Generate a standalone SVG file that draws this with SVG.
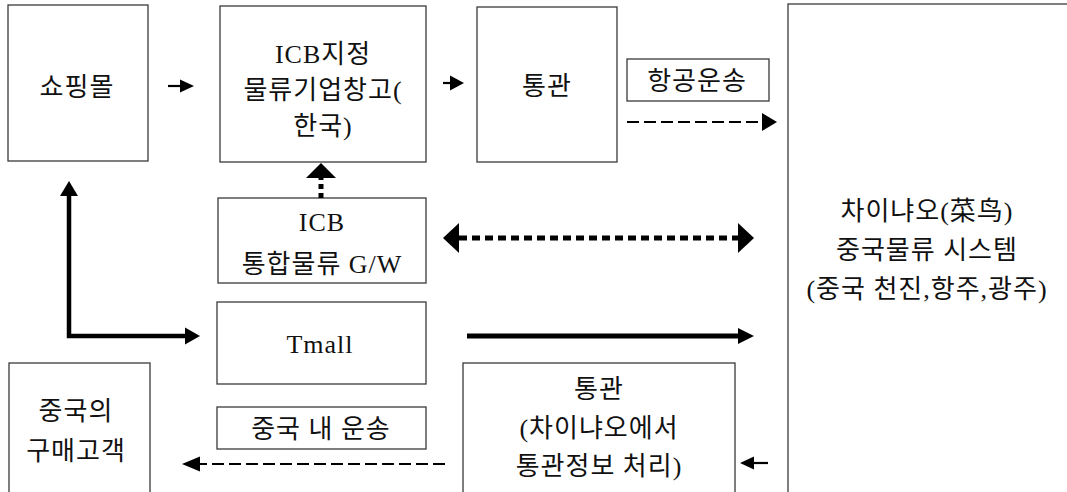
<svg xmlns="http://www.w3.org/2000/svg" width="1067" height="492" viewBox="0 0 1067 492">
<style>
.box{fill:#fff;stroke:#3a3a3a;stroke-width:1.3}
.t{font-family:"Liberation Serif","Noto Sans CJK KR",serif;font-size:26px;letter-spacing:1px;fill:#111;text-anchor:middle}
.thin{stroke:#000;stroke-width:2.2;fill:none}
.dash{stroke:#000;stroke-width:2.2;fill:none;stroke-dasharray:12 5}
.dot{stroke:#000;stroke-width:5;fill:none;stroke-dasharray:8 5}
.thick{stroke:#000;stroke-width:5;fill:none}
.head{fill:#000}
</style>
<rect width="1067" height="492" fill="#fff"/>
<g id="mall"><rect class="box" x="8" y="5" width="140" height="156"/><text class="t" x="77" y="96">쇼핑몰</text></g>
<g id="icb-warehouse"><rect class="box" x="220" y="6" width="206" height="156"/>
<text class="t" x="323" y="63">ICB지정</text><text class="t" x="323" y="99">물류기업창고(</text><text class="t" x="323" y="135">한국)</text></g>
<g id="customs-kr"><rect class="box" x="477" y="7" width="140" height="155"/><text class="t" x="547" y="95">통관</text></g>
<g id="air-label"><rect class="box" x="627" y="59" width="142" height="42"/><text class="t" x="697" y="90">항공운송</text></g>
<g id="cainiao"><rect class="box" x="788" y="4" width="300" height="520"/>
<text class="t" x="927" y="220">차이냐오(菜鸟)</text><text class="t" x="927" y="259">중국물류 시스템</text><text class="t" x="927" y="298">(중국 천진,항주,광주)</text></g>
<g id="icb-gw"><rect class="box" x="218" y="198" width="208" height="85"/>
<text class="t" x="322" y="231">ICB</text><text class="t" x="322" y="273">통합물류 G/W</text></g>
<g id="tmall"><rect class="box" x="217" y="302" width="209" height="82"/><text class="t" x="320" y="353">Tmall</text></g>
<g id="customer"><rect class="box" x="9" y="363" width="141" height="140"/>
<text class="t" x="76" y="420">중국의</text><text class="t" x="76" y="460">구매고객</text></g>
<g id="domestic-label"><rect class="box" x="217" y="407" width="209" height="42"/><text class="t" x="321" y="438">중국 내 운송</text></g>
<g id="customs-cn"><rect class="box" x="463" y="363" width="272" height="140"/>
<text class="t" x="599" y="398">통관</text><text class="t" x="599" y="437">(차이냐오에서</text><text class="t" x="599" y="475">통관정보 처리)</text></g>
<g id="connectors">
<line class="thin" x1="168" y1="86" x2="182" y2="86"/><polygon class="head" points="180,79.5 194,86 180,92.5"/>
<line class="thin" x1="443" y1="83" x2="452" y2="83"/><polygon class="head" points="450,75.5 464,83 450,90.5"/>
<line class="dash" x1="627" y1="122" x2="763" y2="122"/><polygon class="head" points="762,113 777,122 762,131"/>
<line class="dot" x1="321" y1="198" x2="321" y2="177" style="stroke-dasharray:5 4"/><polygon class="head" points="306,178 321,163 336,178"/>
<path class="thick" d="M69,196 V336 H186" style="stroke-width:4.5"/><polygon class="head" points="60,196 69,181 78,196"/><polygon class="head" points="185,327.5 200,336 185,344.5"/>
<line class="dot" x1="459" y1="238" x2="738" y2="238"/><polygon class="head" points="459,223 443,238 459,253"/><polygon class="head" points="738,223 754,238 738,253"/>
<line class="thick" x1="467" y1="336" x2="740" y2="336"/><polygon class="head" points="738,328 754,336 738,344"/>
<line class="thin" x1="768" y1="463" x2="752" y2="463"/><polygon class="head" points="754,456.5 740,463 754,469.5"/>
<line class="dash" x1="445" y1="464" x2="198" y2="464"/><polygon class="head" points="200,456.5 182,464 200,471.5"/>
</g>
</svg>
